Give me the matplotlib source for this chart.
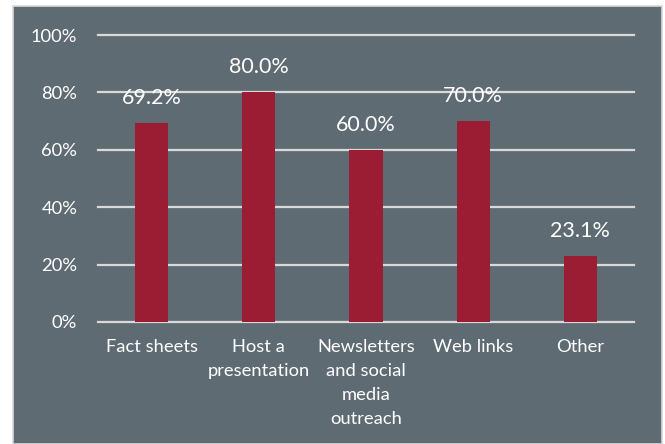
import matplotlib
matplotlib.use("Agg")
import matplotlib.pyplot as plt
from matplotlib.patches import Rectangle

categories = ["Fact sheets", "Host a\npresentation", "Newsletters\nand social\nmedia\noutreach",
              "Web links", "Other"]
shares = [69.2, 80.0, 60.0, 70.0, 23.1]
y_ticks = [0, 20, 40, 60, 80, 100]

panel_color = "#5f6b73"
bar_color = "#9a1d33"
grid_color = "#d9d9d9"
text_color = "#ffffff"

plt.rcParams["font.family"] = ["Lato", "DejaVu Sans"]

W, H = 665, 444
fig = plt.figure(figsize=(W / 100, H / 100), dpi=100)
fig.patch.set_facecolor("white")

# dark panel behind the chart
panel = Rectangle((13 / W, 0), 649 / W, 1 - 6 / H, transform=fig.transFigure,
                  facecolor=panel_color, edgecolor=grid_color, linewidth=1.2, zorder=-10)
fig.add_artist(panel)

ax = fig.add_axes([98 / W, (H - 322) / H, 536 / W, 287 / H])
ax.set_facecolor("none")

x = list(range(len(categories)))
bars = ax.bar(x, shares, width=0.31, color=bar_color, zorder=3)

for xi, v in zip(x, shares):
    ax.annotate(f"{v:.1f}%", (xi, v), xytext=(0, 18), textcoords="offset points",
                ha="center", va="center", color=text_color, fontsize=15.5, zorder=4)

ax.set_xlim(-0.5, len(categories) - 0.5)
ax.set_ylim(0, 100)
ax.set_yticks(y_ticks)
ax.set_yticklabels([f"{t}%" for t in y_ticks])
ax.set_xticks(x)
ax.set_xticklabels(categories, linespacing=1.62)

for t in y_ticks:
    ax.axhline(t, color=grid_color, linewidth=1.6, zorder=1, clip_on=False)

for s in ax.spines.values():
    s.set_visible(False)
ax.tick_params(axis="both", length=0, colors=text_color, labelsize=13.2)
ax.tick_params(axis="y", pad=15)
ax.tick_params(axis="x", pad=12)

fig.savefig("out.png", dpi=100, facecolor=fig.get_facecolor())
